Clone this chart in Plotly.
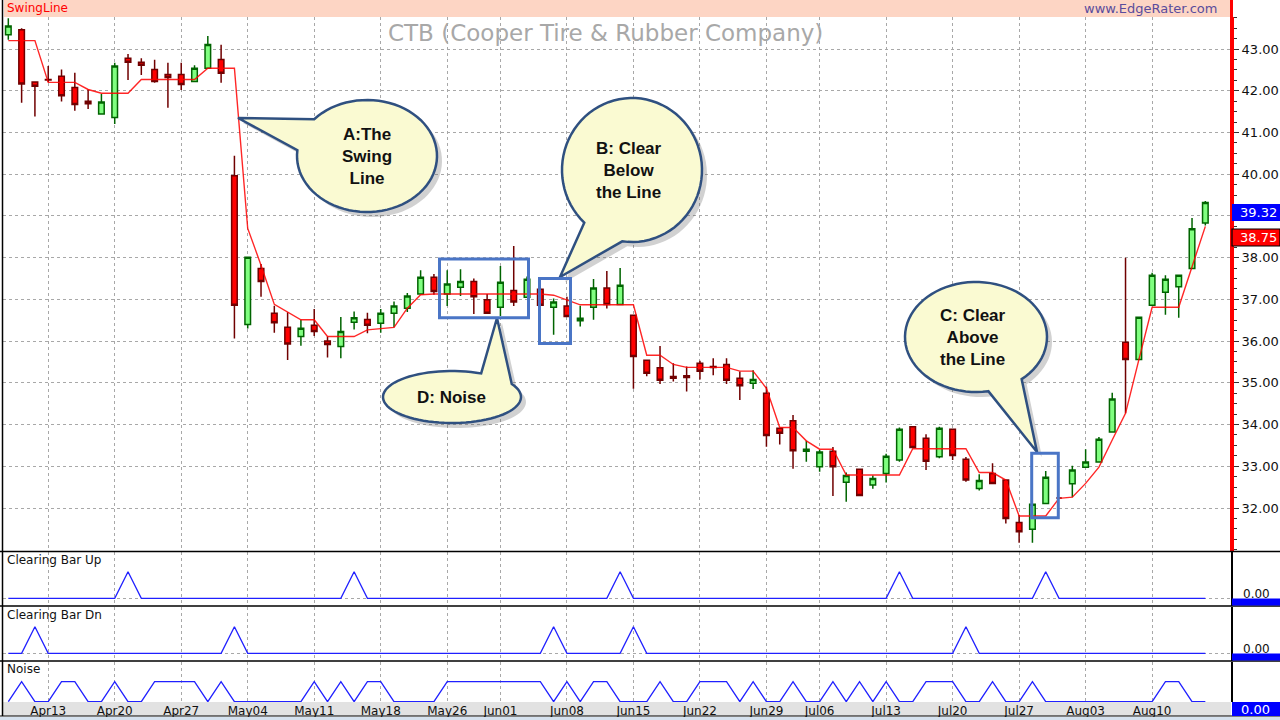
import math
import plotly.graph_objects as go

W, H = 1280, 720

# ---------------- data ----------------
dates = [
    "2015-04-08", "2015-04-09", "2015-04-10",
    "2015-04-13", "2015-04-14", "2015-04-15", "2015-04-16", "2015-04-17",
    "2015-04-20", "2015-04-21", "2015-04-22", "2015-04-23", "2015-04-24",
    "2015-04-27", "2015-04-28", "2015-04-29", "2015-04-30", "2015-05-01",
    "2015-05-04", "2015-05-05", "2015-05-06", "2015-05-07", "2015-05-08",
    "2015-05-11", "2015-05-12", "2015-05-13", "2015-05-14", "2015-05-15",
    "2015-05-18", "2015-05-19", "2015-05-20", "2015-05-21", "2015-05-22",
    "2015-05-26", "2015-05-27", "2015-05-28", "2015-05-29",
    "2015-06-01", "2015-06-02", "2015-06-03", "2015-06-04", "2015-06-05",
    "2015-06-08", "2015-06-09", "2015-06-10", "2015-06-11", "2015-06-12",
    "2015-06-15", "2015-06-16", "2015-06-17", "2015-06-18", "2015-06-19",
    "2015-06-22", "2015-06-23", "2015-06-24", "2015-06-25", "2015-06-26",
    "2015-06-29", "2015-06-30", "2015-07-01", "2015-07-02",
    "2015-07-06", "2015-07-07", "2015-07-08", "2015-07-09", "2015-07-10",
    "2015-07-13", "2015-07-14", "2015-07-15", "2015-07-16", "2015-07-17",
    "2015-07-20", "2015-07-21", "2015-07-22", "2015-07-23", "2015-07-24",
    "2015-07-27", "2015-07-28", "2015-07-29", "2015-07-30", "2015-07-31",
    "2015-08-03", "2015-08-04", "2015-08-05", "2015-08-06", "2015-08-07",
    "2015-08-10", "2015-08-11", "2015-08-12", "2015-08-13", "2015-08-14",
]

opens = [43.34, 43.46, 42.21, 42.27, 42.35, 42.08, 41.75, 41.44, 41.36, 42.78,
         42.68, 42.51, 42.39, 42.39, 42.22, 42.54, 42.75, 39.96, 36.40, 37.74,
         36.67, 36.33, 36.11, 36.38, 36.00, 35.87, 36.45, 36.52, 36.43, 36.67,
         36.79, 37.13, 37.53, 37.13, 37.29, 37.43, 36.99, 36.81, 37.21, 37.05,
         37.24, 36.81, 36.84, 36.49, 36.81, 37.27, 36.88, 36.62, 35.54, 35.36,
         35.15, 35.17, 35.47, 35.39, 35.44, 35.11, 34.99, 34.75, 33.91, 34.09,
         33.36, 32.99, 33.36, 32.62, 32.93, 32.55, 32.83, 33.15, 33.95, 33.67,
         33.23, 33.89, 33.17, 32.47, 32.83, 32.67, 31.65, 31.49, 32.11, 32.24,
         32.58, 32.98, 33.10, 33.82, 35.97, 35.56, 36.86, 37.17, 37.30, 37.74,
         38.83]
highs = [43.74, 43.50, 42.21, 42.59, 42.51, 42.43, 42.03, 41.92, 42.67, 42.88,
         42.78, 42.74, 42.67, 42.67, 42.61, 43.31, 43.10, 40.44, 38.01, 37.85,
         36.85, 36.69, 36.51, 36.77, 36.11, 36.58, 36.71, 36.68, 36.77, 36.95,
         37.15, 37.70, 37.61, 37.70, 37.72, 37.50, 37.13, 37.80, 38.28, 37.55,
         37.28, 37.02, 37.06, 36.85, 37.49, 37.68, 37.75, 36.62, 35.54, 35.88,
         35.47, 35.39, 35.53, 35.59, 35.59, 35.27, 35.30, 34.91, 33.93, 34.23,
         33.61, 33.39, 33.46, 32.85, 32.93, 32.78, 33.30, 33.93, 33.95, 33.77,
         33.95, 33.89, 33.22, 32.81, 33.07, 32.67, 31.83, 32.09, 32.89, 32.25,
         33.01, 33.41, 33.70, 34.76, 38.00, 36.57, 37.64, 37.58, 37.58, 38.95,
         39.36]
lows = [43.22, 41.71, 41.38, 42.21, 41.74, 41.52, 41.56, 41.44, 41.20, 42.26,
        42.38, 42.19, 41.59, 42.02, 42.22, 42.54, 42.19, 36.06, 36.30, 37.06,
        36.20, 35.55, 35.89, 36.12, 35.61, 35.59, 36.28, 36.19, 36.20, 36.33,
        36.70, 37.13, 37.11, 36.84, 37.08, 36.65, 36.67, 36.60, 36.84, 37.05,
        36.86, 36.15, 36.59, 36.35, 36.51, 36.78, 36.88, 34.86, 35.16, 34.97,
        35.03, 34.79, 35.08, 35.18, 34.97, 34.59, 34.85, 33.47, 33.52, 32.94,
        33.11, 32.87, 32.29, 32.15, 32.30, 32.46, 32.61, 33.11, 33.45, 32.91,
        33.19, 33.15, 32.63, 32.42, 32.57, 31.63, 31.17, 31.17, 32.11, 32.23,
        32.26, 32.98, 33.10, 33.82, 34.27, 35.56, 36.86, 36.63, 36.56, 37.74,
        38.77]
closes = [43.55, 42.16, 42.11, 42.26, 41.88, 41.67, 41.69, 41.73, 42.59, 42.68,
          42.61, 42.22, 42.32, 42.15, 42.54, 43.11, 42.42, 36.86, 38.01, 37.43,
          36.44, 35.93, 36.31, 36.23, 35.92, 36.23, 36.56, 36.38, 36.67, 36.84,
          37.08, 37.53, 37.19, 37.37, 37.43, 37.06, 36.67, 37.41, 36.94, 37.48,
          36.86, 36.94, 36.59, 36.55, 37.27, 36.88, 37.34, 35.63, 35.23, 35.06,
          35.11, 35.13, 35.28, 35.37, 35.06, 34.93, 35.08, 33.74, 33.79, 33.37,
          33.41, 33.34, 32.99, 32.78, 32.30, 32.71, 33.24, 33.89, 33.45, 33.12,
          33.91, 33.26, 32.67, 32.66, 32.59, 31.75, 31.43, 32.09, 32.74, 32.24,
          32.91, 33.10, 33.65, 34.61, 35.56, 36.57, 37.58, 37.48, 37.58, 38.69,
          39.32]

swing_line = [43.20, 43.20, 43.20, 42.20, 42.20, 42.20, 42.03, 41.94, 41.94, 41.94,
              42.27, 42.27, 42.27, 42.27, 42.27, 42.54, 42.54, 42.54, 38.70, 37.82,
              36.88, 36.69, 36.51, 36.51, 36.11, 36.11, 36.11, 36.27, 36.30, 36.33,
              36.79, 37.11, 37.13, 37.13, 37.13, 37.13, 37.13, 37.13, 37.13, 37.13,
              37.13, 37.10, 36.98, 36.87, 36.87, 36.87, 36.87, 36.87, 35.66, 35.66,
              35.44, 35.37, 35.37, 35.37, 35.37, 35.28, 35.28, 34.87, 33.93, 33.93,
              33.61, 33.41, 33.41, 32.79, 32.79, 32.79, 32.79, 32.79, 33.42, 33.42,
              33.42, 33.42, 33.42, 32.85, 32.85, 32.67, 31.81, 31.81, 31.81, 32.23,
              32.26, 32.59, 32.98, 33.63, 34.27, 35.55, 36.81, 36.81, 36.81, 37.78,
              38.75]

clearing_bar_up = [0, 0, 0, 0, 0, 0, 0, 0, 0, 1,
                   0, 0, 0, 0, 0, 0, 0, 0, 0, 0,
                   0, 0, 0, 0, 0, 0, 1, 0, 0, 0,
                   0, 0, 0, 0, 0, 0, 0, 0, 0, 0,
                   0, 0, 0, 0, 0, 0, 1, 0, 0, 0,
                   0, 0, 0, 0, 0, 0, 0, 0, 0, 0,
                   0, 0, 0, 0, 0, 0, 0, 1, 0, 0,
                   0, 0, 0, 0, 0, 0, 0, 0, 1, 0,
                   0, 0, 0, 0, 0, 0, 0, 0, 0, 0,
                   0]
clearing_bar_dn = [0, 0, 1, 0, 0, 0, 0, 0, 0, 0,
                   0, 0, 0, 0, 0, 0, 0, 1, 0, 0,
                   0, 0, 0, 0, 0, 0, 0, 0, 0, 0,
                   0, 0, 0, 0, 0, 0, 0, 0, 0, 0,
                   0, 1, 0, 0, 0, 0, 0, 1, 0, 0,
                   0, 0, 0, 0, 0, 0, 0, 0, 0, 0,
                   0, 0, 0, 0, 0, 0, 0, 0, 0, 0,
                   0, 0, 1, 0, 0, 0, 0, 0, 0, 0,
                   0, 0, 0, 0, 0, 0, 0, 0, 0, 0,
                   0]
noise = [0, 1, 0, 0, 1, 1, 0, 0, 1, 0,
         0, 1, 1, 1, 1, 0, 1, 0, 0, 0,
         0, 0, 0, 1, 0, 1, 0, 1, 1, 0,
         0, 0, 0, 1, 1, 1, 1, 1, 1, 1,
         1, 0, 1, 0, 1, 1, 0, 0, 0, 1,
         0, 0, 1, 1, 1, 0, 1, 0, 0, 1,
         0, 0, 1, 0, 1, 0, 1, 0, 0, 1,
         1, 1, 0, 0, 1, 0, 0, 1, 0, 0,
         0, 0, 0, 0, 0, 0, 0, 1, 1, 0,
         0]

tick_dates = ["2015-04-13", "2015-04-20", "2015-04-27", "2015-05-04", "2015-05-11",
              "2015-05-18", "2015-05-26", "2015-06-01", "2015-06-08", "2015-06-15",
              "2015-06-22", "2015-06-29", "2015-07-06", "2015-07-13", "2015-07-20",
              "2015-07-27", "2015-08-03", "2015-08-10"]
tick_labels = ["Apr13", "Apr20", "Apr27", "May04", "May11", "May18", "May26", "Jun01",
               "Jun08", "Jun15", "Jun22", "Jun29", "Jul06", "Jul13", "Jul20", "Jul27",
               "Aug03", "Aug10"]
price_ticks = [32, 33, 34, 35, 36, 37, 38, 39, 40, 41, 42, 43]
last_close_tag = "39.32"
last_swing_tag = "38.75"

# ---------------- helpers (pixel -> paper) ----------------
def X(px):
    return px / W

def Y(py):
    return 1 - py / H

FONT = "DejaVu Sans"

fig = go.Figure()

fig.add_trace(go.Candlestick(
    x=dates, open=opens, high=highs, low=lows, close=closes,
    increasing=dict(line=dict(color="#006400", width=1.5), fillcolor="#80FF80"),
    decreasing=dict(line=dict(color="#700000", width=1.5), fillcolor="#FF0000"),
    xaxis="x", yaxis="y", showlegend=False, hoverinfo="skip",
))
fig.add_trace(go.Scatter(
    x=dates, y=swing_line, mode="lines",
    line=dict(color="rgba(255,0,0,0.85)", width=1.4),
    xaxis="x", yaxis="y", showlegend=False, hoverinfo="skip",
))
for vals, ya in [(clearing_bar_up, "y2"), (clearing_bar_dn, "y3"), (noise, "y4")]:
    fig.add_trace(go.Scatter(
        x=dates, y=vals, mode="lines", line=dict(color="#2020FF", width=1.3),
        xaxis="x", yaxis=ya, showlegend=False, hoverinfo="skip",
    ))

grid = dict(showgrid=True, gridcolor="#A8A8A8", griddash="dot", gridwidth=1)

# the 39.00 label sits under the last-close tag in the reference
price_text = ["" if v == 39 else f"{v:.2f}" for v in price_ticks]

fig.update_layout(
    width=W, height=H, margin=dict(l=0, r=0, t=0, b=0),
    paper_bgcolor="white", plot_bgcolor="white",
    boxgap=0.4,
    xaxis=dict(
        domain=[X(3), X(1231)], type="category", anchor="y4",
        range=[-0.4, 91.93], tickvals=tick_dates, ticktext=tick_labels,
        ticks="", tickfont=dict(family=FONT, size=12, color="#111"),
        rangeslider=dict(visible=False), showline=False, zeroline=False, **grid,
    ),
    yaxis=dict(
        domain=[Y(551), Y(17)], range=[30.97, 43.767], side="right", anchor="x",
        tickvals=price_ticks, ticktext=price_text,
        tickfont=dict(family=FONT, size=13, color="#111"),
        ticks="outside", ticklen=5, tickcolor="#333",
        minor=dict(dtick=0.25, ticks="outside", ticklen=3, tickcolor="#333", showgrid=False),
        showline=True, linecolor="#FF0000", linewidth=3, zeroline=False, **grid,
    ),
    yaxis2=dict(domain=[Y(606), Y(552)], range=[-0.29, 1.74], side="right", anchor="x",
                tickvals=[0], showticklabels=False, ticks="", showline=True,
                linecolor="#000", linewidth=1.5, zeroline=False, **grid),
    yaxis3=dict(domain=[Y(661), Y(607)], range=[-0.29, 1.74], side="right", anchor="x",
                tickvals=[0], showticklabels=False, ticks="", showline=True,
                linecolor="#000", linewidth=1.5, zeroline=False, **grid),
    yaxis4=dict(domain=[Y(702), Y(662)], range=[-0.015, 1.985], side="right", anchor="x",
                tickvals=[0], showticklabels=False, ticks="", showline=True,
                linecolor="#000", linewidth=1.5, zeroline=False, **grid),
)

shapes = []
annotations = []

def rect_px(x0, y0, x1, y1, fill, line_color=None, lw=0, layer="above"):
    shapes.append(dict(type="rect", xref="paper", yref="paper",
                       x0=X(x0), x1=X(x1), y0=Y(y1), y1=Y(y0),
                       fillcolor=fill, line=dict(color=line_color or fill, width=lw),
                       layer=layer))

def line_px(x0, y0, x1, y1, color, lw):
    shapes.append(dict(type="line", xref="paper", yref="paper",
                       x0=X(x0), x1=X(x1), y0=Y(y0), y1=Y(y1),
                       line=dict(color=color, width=lw)))

def text_px(x, y, s, size, color, xanchor="left", family=FONT):
    annotations.append(dict(xref="paper", yref="paper", x=X(x), y=Y(y), text=s,
                            showarrow=False, xanchor=xanchor, yanchor="middle",
                            font=dict(family=family, size=size, color=color),
                            borderpad=0))

# header band
rect_px(4, 0, 1230, 17, "#FDD5C4", layer="below")
text_px(6, 8.5, "SwingLine", 12, "#FF0000")
text_px(1218, 8.5, "www.EdgeRater.com", 13, "#5A4C9C", xanchor="right")
# title
text_px(605, 33, "CTB (Cooper Tire &amp; Rubber Company)", 23, "#A8A8A8", xanchor="center")

# frame lines
line_px(2.5, 0, 2.5, 716, "#000", 1.5)
line_px(1231.5, 0, 1231.5, 551, "#FF0000", 3)
for yy in (551.5, 606, 661):
    line_px(0, yy, 1280, yy, "#000", 1.5)
# x-axis strip
rect_px(3, 702, 1231, 716, "#E2E2E2", layer="below")
line_px(0, 716, 1280, 716, "#000", 1.2)
rect_px(0, 717, 1280, 720, "#D5E1EE")

# panel titles
text_px(6, 560, "Clearing Bar Up", 12, "#111")
text_px(6, 615, "Clearing Bar Dn", 12, "#111")
text_px(6, 669, "Noise", 12, "#111")

# right side value tags
rect_px(1232, 204, 1280, 221, "#0000FF")
text_px(1239, 212.5, last_close_tag, 13, "#FFFFFF")
rect_px(1232, 229, 1280, 246, "#FF0000", "#000", 1.2)
text_px(1239, 237.5, last_swing_tag, 13, "#FFFFFF")
for yb, yt in ((598.5, 594), (653.5, 649)):
    text_px(1242, yt, "0.00", 12, "#111")
    rect_px(1232, yb, 1280, yb + 7, "#0000FF")
rect_px(1232, 702, 1280, 716, "#0000FF")
text_px(1240, 709, "0.00", 13, "#FFFFFF")

# speech bubbles
def bubble(cx, cy, rx, ry, a_lo, a_hi, tip, dx=0, dy=0):
    pts = []
    n = 72
    start = a_hi
    end = a_lo + 360
    for k in range(n + 1):
        a = math.radians(start + (end - start) * k / n)
        pts.append((cx + rx * math.cos(a) + dx, cy + ry * math.sin(a) + dy))
    pts.append((tip[0] + dx, tip[1] + dy))
    return "M " + " L ".join(f"{X(px):.5f},{Y(py):.5f}" for px, py in pts) + " Z"

def add_bubble(cx, cy, rx, ry, a_lo, a_hi, tip, lines, tx=None, ty=None):
    shapes.append(dict(type="path", xref="paper", yref="paper",
                       path=bubble(cx, cy, rx, ry, a_lo, a_hi, tip, 5, 5),
                       fillcolor="rgba(90,90,90,0.28)", line=dict(width=0)))
    shapes.append(dict(type="path", xref="paper", yref="paper",
                       path=bubble(cx, cy, rx, ry, a_lo, a_hi, tip),
                       fillcolor="#FAFAD2", line=dict(color="#2F5080", width=2.5)))
    annotations.append(dict(xref="paper", yref="paper",
                            x=X(tx if tx is not None else cx), y=Y(ty if ty is not None else cy),
                            text="<br>".join(f"<b>{s}</b>" for s in lines),
                            showarrow=False, xanchor="center", yanchor="middle",
                            font=dict(family="Liberation Sans", size=17, color="#111")))

add_bubble(367, 156, 70, 56, 186, 221, (238, 118), ["A:The", "Swing", "Line"])
add_bubble(632, 170, 70, 72, 98, 133, (560, 277), ["B: Clear", "Below", "the Line"], tx=629)
add_bubble(976, 337, 71, 55, 50, 80, (1037, 452), ["C: Clear", "Above", "the Line"], tx=973)
add_bubble(452, 397, 69, 26, 295, 330, (497, 318), ["D: Noise"], tx=451)

# blue highlight boxes
for x0, y0, x1, y1 in ((439.5, 259, 528.5, 317.7), (539.5, 278.5, 570.5, 343.5),
                       (1031.7, 453.3, 1058.3, 517.7)):
    shapes.append(dict(type="rect", xref="paper", yref="paper",
                       x0=X(x0), x1=X(x1), y0=Y(y1), y1=Y(y0),
                       line=dict(color="#4A75C6", width=3), fillcolor="rgba(0,0,0,0)"))

fig.update_layout(shapes=shapes, annotations=annotations)
fig.write_html("out.html", config={"displayModeBar": False},
               post_script="document.body.style.margin='0';document.body.style.overflow='hidden';")
